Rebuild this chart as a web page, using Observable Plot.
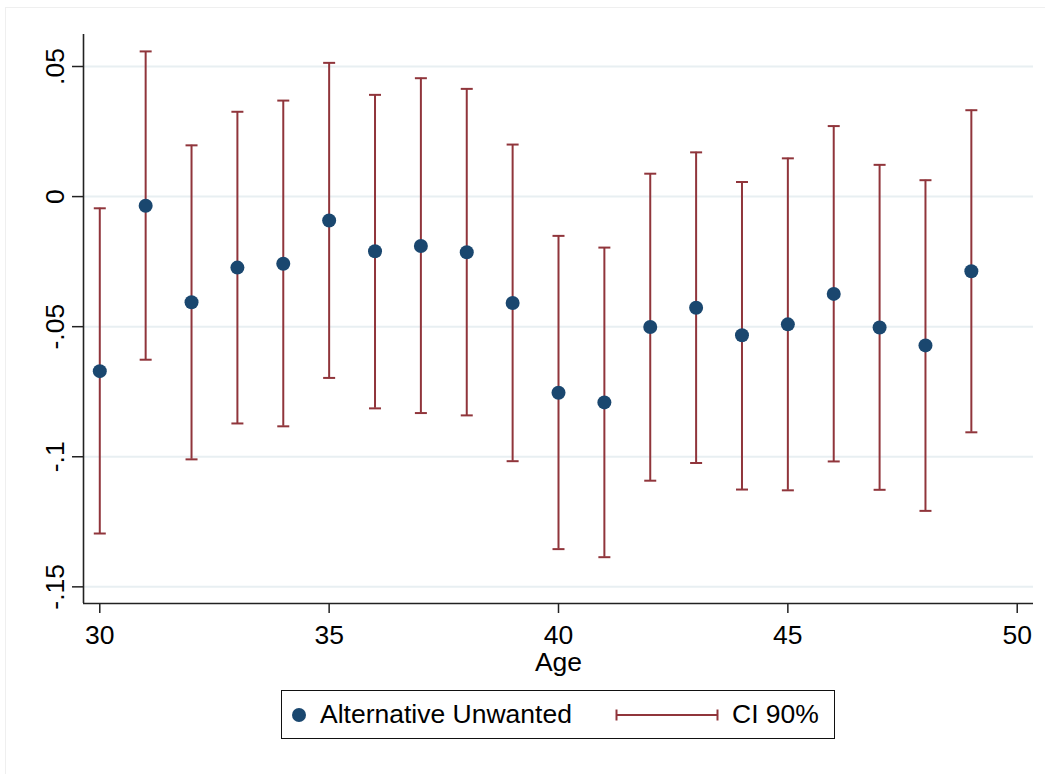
<!DOCTYPE html>
<html>
<head>
<meta charset="utf-8">
<script src="https://cdn.jsdelivr.net/npm/d3@7"></script>
<script src="https://cdn.jsdelivr.net/npm/@observablehq/plot@0.6"></script>
<style>
  html, body { margin: 0; padding: 0; background: #fff; overflow: hidden; }
  body { font-family: "Liberation Sans", Arial, sans-serif; }
  #wrap { position: relative; width: 1045px; height: 774px; overflow: hidden; }
  #outer { position: absolute; left: 5px; top: 7px; width: 1100px; height: 800px; border: 1px solid #efefef; }
  #chart { position: absolute; left: 0; top: 0; }
  #legend { position: absolute; left: 281px; top: 690px; width: 554px; height: 49px;
            border: 1.5px solid #111; box-sizing: border-box; background: #fff; }
  #legend .item { position: absolute; top: 0; height: 46px; line-height: 46px; font-size: 26.5px; color: #000; white-space: nowrap; }
  #legend svg { position: absolute; top: 0; }
</style>
</head>
<body>
<div id="wrap">
  <div id="outer"></div>
  <div id="chart"></div>
  <div id="legend"></div>
</div>
<script>
// ---- data ----
const ages      = [30, 31, 32, 33, 34, 35, 36, 37, 38, 39, 40, 41, 42, 43, 44, 45, 46, 47, 48, 49];
const estimates = [-0.0671, -0.0035, -0.0406, -0.0273, -0.0258, -0.0092, -0.0210, -0.0190, -0.0214, -0.0409,
                   -0.0754, -0.0791, -0.0501, -0.0427, -0.0533, -0.0491, -0.0374, -0.0503, -0.0572, -0.0287];
const ciLower   = [-0.1295, -0.0627, -0.1010, -0.0872, -0.0883, -0.0697, -0.0814, -0.0832, -0.0841, -0.1017,
                   -0.1355, -0.1386, -0.1092, -0.1024, -0.1126, -0.1129, -0.1018, -0.1127, -0.1208, -0.0906];
const ciUpper   = [-0.0045, 0.0558, 0.0197, 0.0326, 0.0369, 0.0514, 0.0391, 0.0455, 0.0414, 0.0200,
                   -0.0151, -0.0196, 0.0088, 0.0170, 0.0056, 0.0147, 0.0271, 0.0122, 0.0063, 0.0332];
const yTicks      = [-0.15, -0.1, -0.05, 0, 0.05];
const yTickLabels = ["-.15", "-.1", "-.05", "0", ".05"];
const xTicks      = [30, 35, 40, 45, 50];
const xLabel      = "Age";
const seriesName  = "Alternative Unwanted";
const ciName      = "CI 90%";
const xDomain     = [29.645, 50.355];
const yDomain     = [-0.1564, 0.0623];

const dotColor = "#1a476f";
const ciColor  = "#90353b";
const gridColor = "#e8eff2";

const data = ages.map((a, i) => ({age: a, est: estimates[i], lo: ciLower[i], hi: ciUpper[i]}));

const capSymbol = {
  draw(context) { context.moveTo(-6, 0); context.lineTo(6, 0); }
};

const chart = Plot.plot({
  width: 1045,
  height: 688,
  marginLeft: 83,
  marginRight: 12,
  marginTop: 34,
  marginBottom: 85,
  style: {fontSize: "26.5px", fontFamily: "'Liberation Sans', Arial, sans-serif", background: "transparent", color: "#000"},
  x: {domain: xDomain},
  y: {domain: yDomain},
  marks: [
    Plot.gridY(yTicks, {stroke: gridColor, strokeOpacity: 1, strokeWidth: 2}),
    Plot.ruleX([xDomain[0]], {stroke: "#222", strokeWidth: 1.6}),
    Plot.ruleY([yDomain[0]], {stroke: "#222", strokeWidth: 1.6}),
    Plot.axisY({
      ticks: yTicks,
      tickFormat: d => yTickLabels[yTicks.indexOf(d)],
      tickSize: 11,
      tickPadding: 9,
      tickRotate: -90,
      stroke: "#222",
      strokeWidth: 1.5,
      label: null
    }),
    Plot.axisX({
      ticks: xTicks,
      tickFormat: d => String(d),
      tickSize: 10,
      tickPadding: 12,
      stroke: "#222",
      strokeWidth: 1.5,
      label: xLabel,
      labelArrow: "none",
      labelAnchor: "center",
      labelOffset: 67
    }),
    Plot.ruleX(data, {x: "age", y1: "lo", y2: "hi", stroke: ciColor, strokeWidth: 2}),
    Plot.dot(data, {x: "age", y: "lo", symbol: capSymbol, stroke: ciColor, strokeWidth: 2, r: 6}),
    Plot.dot(data, {x: "age", y: "hi", symbol: capSymbol, stroke: ciColor, strokeWidth: 2, r: 6}),
    Plot.dot(data, {x: "age", y: "est", r: 7, fill: dotColor, stroke: "none"})
  ]
});
document.getElementById("chart").appendChild(chart);

// ---- legend ----
const legend = document.getElementById("legend");
legend.innerHTML = `
  <svg width="30" height="46" style="left:3px"><circle cx="14" cy="24" r="7" fill="${dotColor}"/></svg>
  <span class="item" style="left:38px">${seriesName}</span>
  <svg width="110" height="46" style="left:330px">
    <g stroke="${ciColor}" stroke-width="2" fill="none">
      <line x1="4.5" y1="24" x2="105.5" y2="24"/>
      <line x1="4.5" y1="18.5" x2="4.5" y2="29.5"/>
      <line x1="105.5" y1="18.5" x2="105.5" y2="29.5"/>
    </g>
  </svg>
  <span class="item" style="left:450px">${ciName}</span>`;
</script>
</body>
</html>
